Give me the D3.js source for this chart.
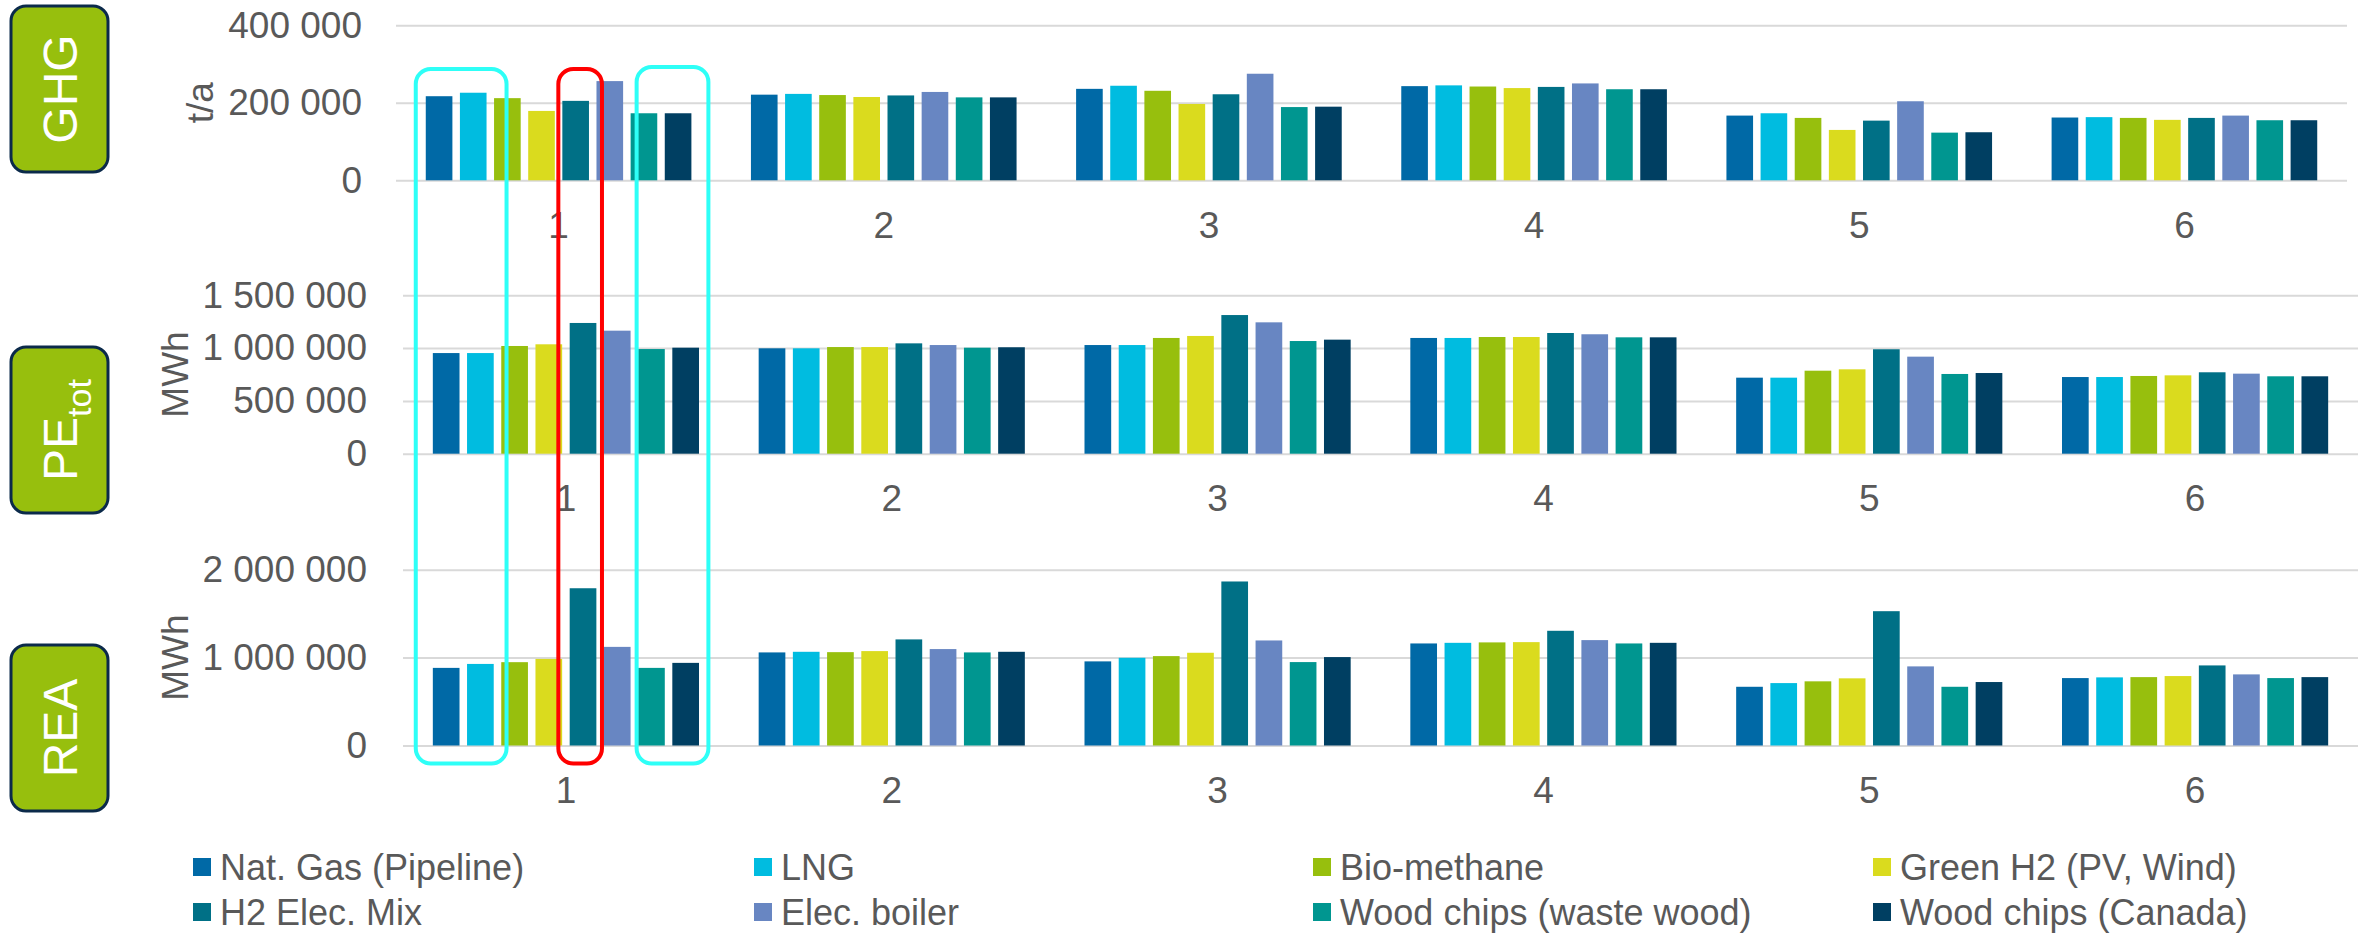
<!DOCTYPE html>
<html>
<head>
<meta charset="utf-8">
<script src="https://cdn.jsdelivr.net/npm/d3@7"></script>
<style>
  body { margin: 0; background: #fff; }
  text { font-family: "Liberation Sans", Arial, sans-serif; fill: #595959; }
</style>
</head>
<body>
<div id="chart"></div>
<script>
// categories and series
const categories = ["1", "2", "3", "4", "5", "6"];
const seriesNames = [
  "Nat. Gas (Pipeline)", "LNG", "Bio-methane", "Green H2 (PV, Wind)",
  "H2 Elec. Mix", "Elec. boiler", "Wood chips (waste wood)", "Wood chips (Canada)"
];
const seriesColors = [
  "#0069A6", "#00BCE0", "#97BF0D", "#DADB1E",
  "#007086", "#6886C2", "#009690", "#003F62"
];

// values, one row per category, one column per series
const ghgValues = [
  [217000, 226000, 212000, 179000, 205000, 256000, 173000, 173000],
  [221000, 223000, 220000, 215000, 219000, 228000, 214000, 214000],
  [236000, 244000, 231000, 197000, 222000, 275000, 189000, 190000],
  [243000, 245000, 242000, 238000, 241000, 250000, 235000, 235000],
  [167000, 173000, 161000, 130000, 154000, 204000, 123000, 124000],
  [162000, 163000, 161000, 156000, 161000, 167000, 155000, 155000]
];
const peValues = [
  [953000, 953000, 1020000, 1036000, 1238000, 1165000, 991000, 1004000],
  [998000, 998000, 1010000, 1010000, 1045000, 1029000, 1004000, 1008000],
  [1029000, 1029000, 1096000, 1115000, 1313000, 1244000, 1067000, 1080000],
  [1096000, 1096000, 1105000, 1105000, 1143000, 1131000, 1102000, 1102000],
  [720000, 720000, 786000, 799000, 989000, 919000, 755000, 764000],
  [726000, 726000, 736000, 742000, 771000, 758000, 733000, 733000]
];
const reaValues = [
  [883000, 928000, 948000, 985000, 1789000, 1122000, 883000, 940000],
  [1059000, 1066000, 1062000, 1074000, 1207000, 1097000, 1059000, 1066000],
  [957000, 998000, 1017000, 1055000, 1866000, 1195000, 949000, 1006000],
  [1161000, 1168000, 1173000, 1176000, 1305000, 1199000, 1161000, 1168000],
  [668000, 710000, 730000, 764000, 1528000, 900000, 668000, 722000],
  [767000, 775000, 778000, 790000, 911000, 809000, 767000, 778000]
];

// tick values
const ghgTicks = [0, 200000, 400000];
const peTicks = [0, 500000, 1000000, 1500000];
const reaTicks = [0, 1000000, 2000000];

const sirina = 2369, visina = 934;
const fmt = d3.formatLocale({ thousands: " ", grouping: [3], decimal: ",", currency: ["", ""] }).format(",d");

const paneli = [
  { badge: "GHG", unit: "t/a", values: ghgValues, ticks: ghgTicks,
    x: [396, 2347], y: [180.3, 25.3], badgeY: 6, titleX: 200, tickGap: 34 },
  { badge: "PE", sub: "tot", unit: "MWh", values: peValues, ticks: peTicks,
    x: [403, 2358], y: [453.7, 295.3], badgeY: 347, titleX: 175, tickGap: 36 },
  { badge: "REA", unit: "MWh", values: reaValues, ticks: reaTicks,
    x: [403, 2358], y: [745.5, 569.7], badgeY: 645, titleX: 175, tickGap: 36 }
];

const svg = d3.select("#chart").append("svg")
  .attr("width", sirina)
  .attr("height", visina);

const x1 = d3.scaleBand()
  .domain(d3.range(seriesNames.length))
  .paddingInner(0.22)
  .paddingOuter(0.11);

paneli.forEach(p => {
  const x0 = d3.scaleBand().domain(categories).range(p.x);
  const grupaSirina = x0.bandwidth() * 0.84;
  x1.range([0, grupaSirina]);
  const pomak = (x0.bandwidth() - grupaSirina) / 2;
  const y = d3.scaleLinear().domain([0, d3.max(p.ticks)]).range(p.y);
  p.x0 = x0; p.pomak = pomak; p.yScale = y;

  const g = svg.append("g");

  // mreža i oznake osi y
  const osY = g.append("g")
    .attr("transform", `translate(${p.x[0]},0)`)
    .call(d3.axisLeft(y).tickValues(p.ticks).tickFormat(fmt)
      .tickSizeInner(-(p.x[1] - p.x[0])).tickSizeOuter(0).tickPadding(p.tickGap));
  osY.select(".domain").remove();
  osY.selectAll("line").attr("stroke", "#d9d9d9").attr("stroke-width", 2);
  osY.selectAll("text").style("font-size", "37px").attr("fill", "#595959");

  // stupci
  g.append("g").selectAll("g")
    .data(p.values)
    .join("g")
    .attr("transform", (d, i) => `translate(${x0(categories[i]) + pomak},0)`)
    .selectAll("rect")
    .data(d => d)
    .join("rect")
    .attr("x", (d, j) => x1(j))
    .attr("y", d => y(d))
    .attr("width", x1.bandwidth())
    .attr("height", d => y(0) - y(d))
    .attr("fill", (d, j) => seriesColors[j]);

  // oznake kategorija
  const osX = g.append("g")
    .attr("transform", `translate(0,${p.y[0]})`)
    .call(d3.axisBottom(x0).tickSize(0).tickPadding(31));
  osX.select(".domain").remove();
  osX.selectAll("text").style("font-size", "37px").attr("fill", "#595959");

  // naslov osi
  g.append("text")
    .attr("transform", `translate(${p.titleX},${(p.y[0] + p.y[1]) / 2}) rotate(-90)`)
    .attr("text-anchor", "middle")
    .attr("dominant-baseline", "central")
    .style("font-size", "37px")
    .text(p.unit);

  // zelena oznaka
  g.append("rect")
    .attr("x", 11).attr("y", p.badgeY)
    .attr("width", 97).attr("height", 166)
    .attr("rx", 15)
    .attr("fill", "#97BF0D")
    .attr("stroke", "#0B2A4A")
    .attr("stroke-width", 3);
  const bt = g.append("text")
    .attr("transform", `translate(60,${p.badgeY + 83}) rotate(-90)`)
    .attr("text-anchor", "middle")
    .attr("dominant-baseline", "central")
    .style("font-size", "48px")
    .style("fill", "#fff")
    .text(p.badge);
  if (p.sub) {
    bt.append("tspan")
      .attr("baseline-shift", "sub")
      .style("font-size", "34px")
      .style("fill", "#fff")
      .text(p.sub);
  }
});

// okviri isticanja (oko stupaca prve kategorije)
const isticanja = [
  { cat: "1", from: 0, to: 1, padL: 10, padR: 20, top: 69, color: "#2EFFF7" },
  { cat: "1", from: 4, to: 4, padL: 4, padR: 13, top: 69, color: "#FF0000" },
  { cat: "1", from: 6, to: 7, padL: -6, padR: 17, top: 67, color: "#2EFFF7" }
];
const gornji = paneli[0], donji = paneli[2];
x1.range([0, gornji.x0.bandwidth() * 0.84]);
svg.append("g").selectAll("rect")
  .data(isticanja)
  .join("rect")
  .attr("x", d => gornji.x0(d.cat) + gornji.pomak + x1(d.from) - d.padL)
  .attr("y", d => d.top)
  .attr("width", d => x1(d.to) + x1.bandwidth() - x1(d.from) + d.padL + d.padR)
  .attr("height", d => donji.y[0] + 18 - d.top)
  .attr("rx", 15)
  .attr("fill", "none")
  .attr("stroke", d => d.color)
  .attr("stroke-width", 4);

// legenda
const legendaX = [193, 754, 1313, 1873];
const legendaY = [867, 912];
const legenda = svg.append("g").selectAll("g")
  .data(seriesNames)
  .join("g")
  .attr("transform", (d, i) => `translate(${legendaX[i % 4]},${legendaY[Math.floor(i / 4)]})`);
legenda.append("rect")
  .attr("y", -9).attr("width", 18).attr("height", 18)
  .attr("fill", (d, i) => seriesColors[i]);
legenda.append("text")
  .attr("x", 27)
  .attr("dy", "0.35em")
  .style("font-size", "36px")
  .text(d => d);
</script>
</body>
</html>
